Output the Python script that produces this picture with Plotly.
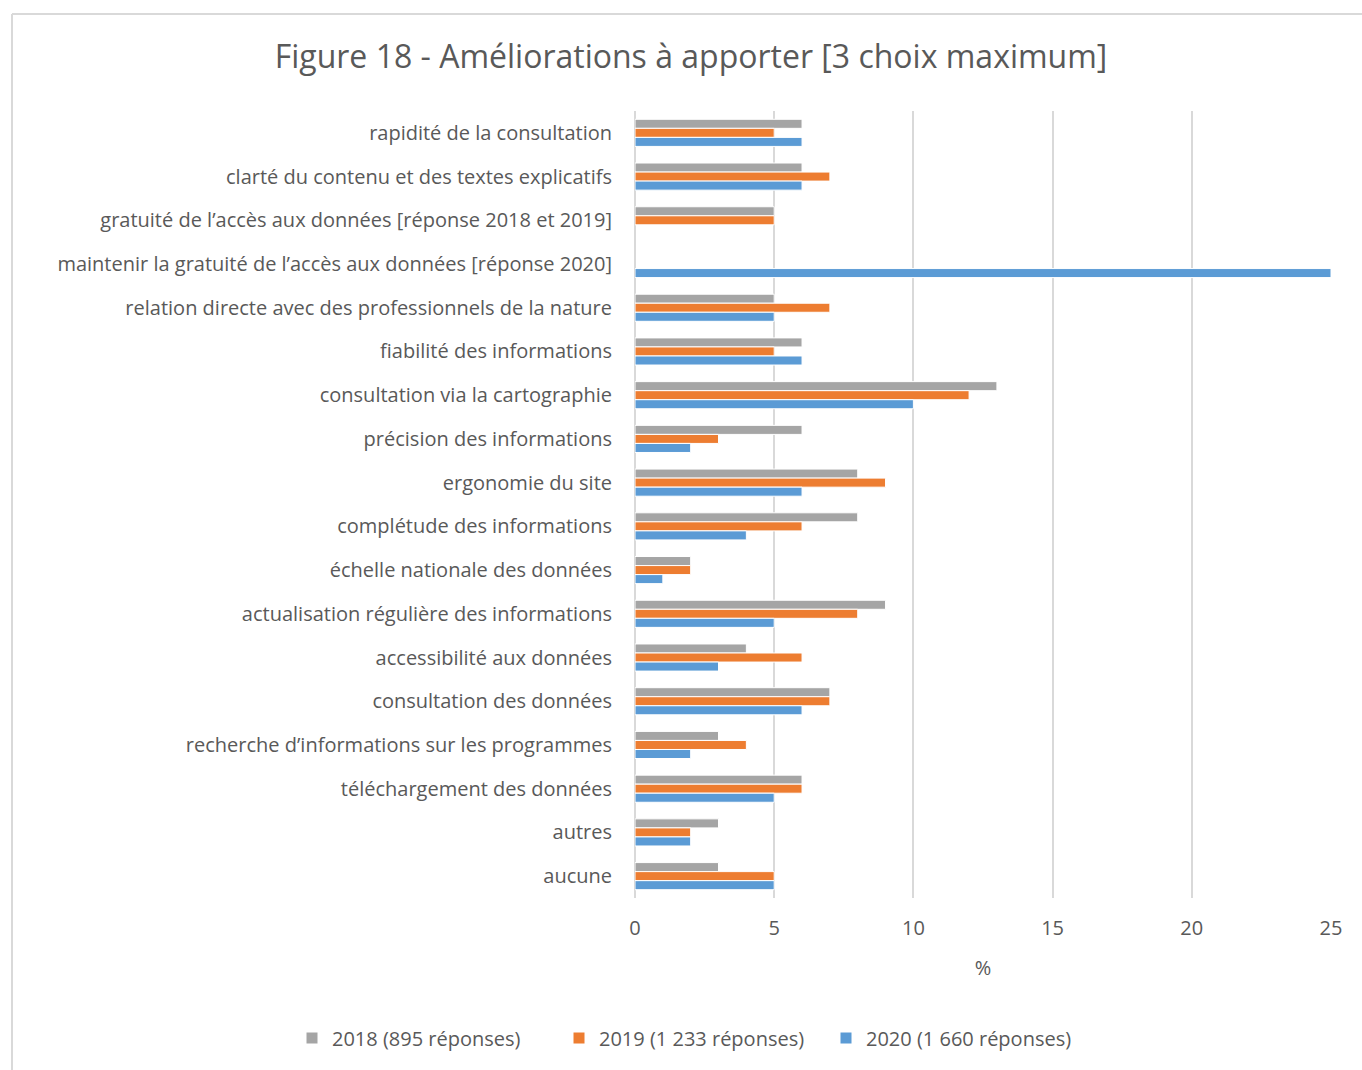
import plotly.graph_objects as go

categories = [
    'rapidité de la consultation',
    'clarté du contenu et des textes explicatifs',
    'gratuité de l’accès aux données [réponse 2018 et 2019]',
    'maintenir la gratuité de l’accès aux données [réponse 2020]',
    'relation directe avec des professionnels de la nature',
    'fiabilité des informations',
    'consultation via la cartographie',
    'précision des informations',
    'ergonomie du site',
    'complétude des informations',
    'échelle nationale des données',
    'actualisation régulière des informations',
    'accessibilité aux données',
    'consultation des données',
    'recherche d’informations sur les programmes',
    'téléchargement des données',
    'autres',
    'aucune',
]

values_2018 = [6, 6, 5, None, 5, 6, 13, 6, 8, 8, 2, 9, 4, 7, 3, 6, 3, 3]
values_2019 = [5, 7, 5, None, 7, 5, 12, 3, 9, 6, 2, 8, 6, 7, 4, 6, 2, 5]
values_2020 = [6, 6, None, 25, 5, 6, 10, 2, 6, 4, 1, 5, 3, 6, 2, 5, 2, 5]

series_names = ['2018 (895 réponses)', '2019 (1 233 réponses)', '2020 (1 660 réponses)']
colors = ['#a5a5a5', '#ed7d31', '#5b9bd5']

FONT = 'Open Sans'
TXT = '#595959'


def build_figure():
    fig = go.Figure()
    for name, vals, col in zip(series_names, [values_2018, values_2019, values_2020], colors):
        fig.add_bar(
            y=categories, x=vals, name=name, orientation='h',
            marker=dict(color=col, line=dict(color='white', width=1)),
        )

    # plot area: x 635..1331, y 111..898
    fig.update_layout(
        width=1362, height=1070,
        margin=dict(l=635, r=31, t=111, b=172),
        paper_bgcolor='white', plot_bgcolor='white',
        font=dict(family=FONT, size=20, color=TXT),
        barmode='group', bargap=0.38, bargroupgap=0,
        title=dict(
            text='Figure 18 - Améliorations à apporter [3 choix maximum]',
            x=691 / 1362, xanchor='center', y=1 - 57 / 1070, yanchor='middle',
            font=dict(family=FONT, size=32, color=TXT),
        ),
        legend=dict(
            orientation='h', x=(292 - 635) / 696, xanchor='left',
            y=1 - (1038 - 111) / 787, yanchor='middle',
            font=dict(size=20, color=TXT), traceorder='normal',
            itemwidth=30, entrywidth=222,
        ),
        showlegend=True,
    )
    fig.update_xaxes(
        range=[0, 25], dtick=5, showgrid=True, gridcolor='#d9d9d9', gridwidth=2,
        zeroline=True, zerolinecolor='#d9d9d9', zerolinewidth=2,
        showline=False, ticks='', ticklabelstandoff=16,
        title=dict(text='%', standoff=20, font=dict(size=20, color=TXT)),
    )
    fig.update_yaxes(
        autorange='reversed', showgrid=False, showline=False, ticks='',
        ticklabelstandoff=22,
    )

    # chart area border (left and top edges visible in the reference)
    x0 = (12 - 635) / 696
    y0 = 1 + (111 - 14) / 787
    fig.add_shape(type='line', xref='paper', yref='paper', x0=x0, x1=x0, y0=-0.3, y1=y0,
                  line=dict(color='#d9d9d9', width=2))
    fig.add_shape(type='line', xref='paper', yref='paper', x0=x0, x1=1.1, y0=y0, y1=y0,
                  line=dict(color='#d9d9d9', width=2))
    return fig


def main():
    fig = build_figure()
    fig.write_html('out.html', config={'displayModeBar': False},
                   post_script="document.body.style.margin='0';")


if __name__ == '__main__':
    main()
